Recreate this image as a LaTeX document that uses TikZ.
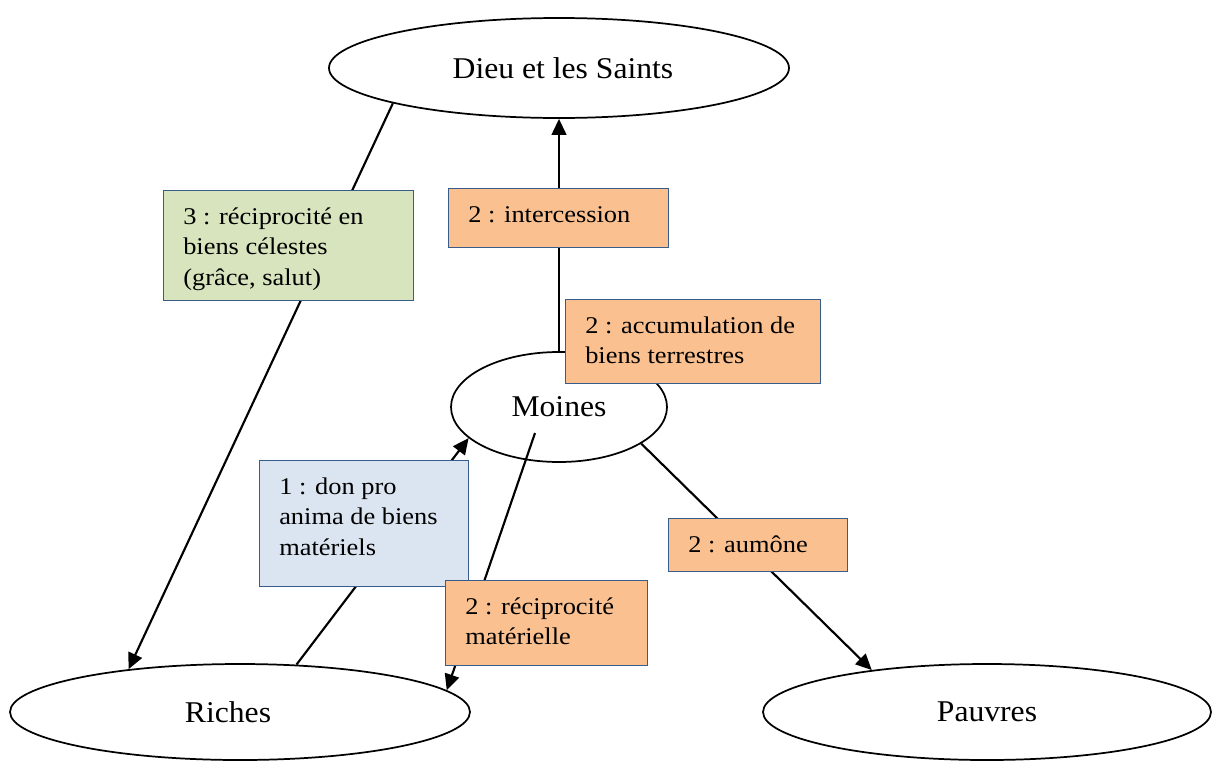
\documentclass[tikz,border=0pt]{standalone}
\usepackage{fontspec}
\setmainfont{Liberation Serif}
\newfontfamily\ellfont[FakeStretch=1.05]{Liberation Serif}
\newfontfamily\bxfont[FakeStretch=1.1]{Liberation Serif}
\usetikzlibrary{shapes.geometric,arrows.meta}
\definecolor{orangef}{HTML}{FAC090}
\definecolor{greenf}{HTML}{D7E4BD}
\definecolor{bluef}{HTML}{DBE5F1}
\definecolor{boxline}{HTML}{385D8A}
\tikzset{
  ell/.style={ellipse, draw=black, line width=1.3pt, inner sep=0pt,
    font=\ellfont\fontsize{22.6}{26}\selectfont},
  bx/.style={rectangle, draw=boxline, line width=1.1pt, inner sep=0pt, anchor=north west},
  bt/.style={anchor=north west, inner sep=0pt, align=left,
    font=\bxfont\fontsize{18}{22.9}\selectfont},
  con/.style={line width=1.6pt, -{Triangle[length=12pt,width=11pt]}}
}
\begin{document}
\begin{tikzpicture}[x=0.75pt,y=-0.75pt]
\useasboundingbox (0,0) rectangle (1212,764);
% ellipses
\node[ell, minimum width=345pt, minimum height=75pt] (dieu) at (559,68) {\hspace*{6pt}Dieu et les Saints};
\node[ell, minimum width=345pt, minimum height=72pt] (riches) at (240,712) {\hspace*{-18pt}Riches};
\node[ell, minimum width=336pt, minimum height=72pt] (pauvres) at (987,712) {Pauvres};
\node[ell, minimum width=162pt, minimum height=82.5pt] (moines) at (559,407) {Moines};
% connectors
\draw[con] (dieu.192) -- (riches.159.4);
\draw[con] (moines.north) -- (dieu.south);
\draw[con] (riches.40.1) -- (moines.199);
\coordinate (mr) at (535,433);
\draw[con] (mr) -- (riches.6.1);
\draw[con] (moines.-24.7) -- (pauvres.160.3);
% boxes
\node[bx, fill=greenf, minimum width=187.5pt, minimum height=82.5pt] (g) at (163,190) {};
\node[bt] (gt) at (183,202.6) {\strut 3 : réciprocité en\\biens célestes\\(grâce, salut)};
\node[bx, fill=orangef, minimum width=165pt, minimum height=44.25pt] (i) at (448,188) {};
\node[bt] (it) at (468,200.6) {\strut 2 : intercession};
\node[bx, fill=orangef, minimum width=191.25pt, minimum height=63pt] (a) at (565,299) {};
\node[bt] (at) at (585,311.6) {\strut 2 : accumulation de\\biens terrestres};
\node[bx, fill=bluef, minimum width=156.75pt, minimum height=94.5pt] (b) at (259,460) {};
\node[bt] (bt1) at (279,472.6) {\strut 1 : don pro\\anima de biens\\matériels};
\node[bx, fill=orangef, minimum width=151.5pt, minimum height=63.75pt] (r) at (445,580) {};
\node[bt] (rt) at (465,592.6) {\strut 2 : réciprocité\\matérielle};
\node[bx, fill=orangef, minimum width=134.25pt, minimum height=39.75pt] (au) at (668,518) {};
\node[bt] (aut) at (688,530.6) {\strut 2 : aumône};
\end{tikzpicture}
\end{document}
